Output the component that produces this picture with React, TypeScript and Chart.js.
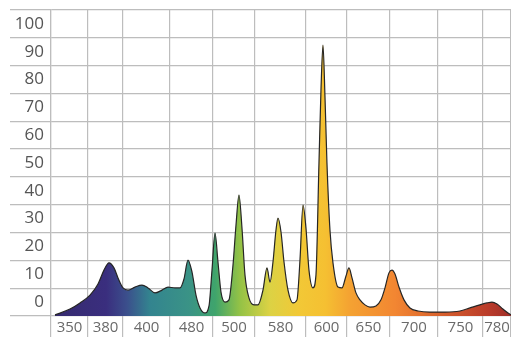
import { useEffect, useRef } from 'react';
import Chart from 'chart.js/auto';

// Column labels (wavelengths in nm) shown in the cells under the plot
const wavelengthLabels = ['350', '380', '400', '480', '500', '580', '600', '650', '700', '750', '780'];
// Cell boundaries of the grid, in column units (irregular as in the original)
const columnEdges = [0, 0.885, 1.722, 2.846, 3.874, 4.878, 6.098, 7.078, 8.106, 9.254, 10.33, 11];
// Row labels of the relative intensity axis
const intensityLabels = [0, 10, 20, 30, 40, 50, 60, 70, 80, 90, 100];

// Spectrum trace: position (column units) and relative intensity
const spectrumPos = [
  0.096, 0.454, 0.693, 0.933, 1.124, 1.267, 1.387, 1.506, 1.602, 1.722, 1.841, 2.009, 2.176, 2.319, 2.487,
  2.654, 2.798, 2.965, 3.085, 3.18, 3.276, 3.372, 3.467, 3.563, 3.682, 3.778, 3.85, 3.922, 3.993, 4.065,
  4.161, 4.256, 4.352, 4.424, 4.495, 4.567, 4.639, 4.734, 4.854, 4.95, 5.069, 5.165, 5.237, 5.308, 5.38,
  5.428, 5.5, 5.572, 5.667, 5.787, 5.882, 5.954, 6.026, 6.097, 6.169, 6.265, 6.336, 6.408, 6.456, 6.504,
  6.552, 6.599, 6.671, 6.743, 6.863, 6.958, 7.054, 7.126, 7.198, 7.293, 7.389, 7.508, 7.628, 7.771, 7.891,
  7.987, 8.082, 8.154, 8.226, 8.321, 8.441, 8.584, 8.776, 9.062, 9.421, 9.78, 10.019, 10.258, 10.426, 10.545,
  10.665, 10.808, 10.928, 11.0,
];
const spectrumValue = [
  0.4, 2.5, 4.7, 7.5, 11.5, 16.5, 19.1, 17.3, 13.7, 10.1, 9.3, 10.4, 11.1, 10.1, 8.3,
  9.3, 10.4, 10.1, 10.1, 13.3, 20.1, 15.8, 7.5, 2.9, 1.1, 3.6, 16.5, 29.8, 19.4, 8.6,
  5.0, 5.8, 18.3, 32.7, 43.5, 31.6, 14.7, 6.5, 4.0, 4.0, 9.3, 17.3, 12.2, 19.4, 30.9,
  35.2, 30.2, 19.4, 9.3, 4.7, 5.8, 20.1, 39.9, 31.6, 16.5, 10.1, 14.7, 55.0, 81.2, 97.4,
  78.7, 55.0, 30.9, 19.1, 10.4, 10.1, 14.4, 17.3, 13.7, 8.3, 5.8, 4.0, 3.2, 3.6, 5.8,
  10.1, 15.5, 16.5, 15.1, 10.4, 5.8, 2.9, 1.8, 1.4, 1.4, 1.8, 2.9, 4.0, 4.7, 5.0,
  4.3, 2.5, 1.1, 0.4,
];

// Colour stops of the spectral fill (fraction of axis width, colour)
const spectrumStops: [number, string][] = [
  [0.0, '#352a6e'],
  [0.12, '#3a2e7e'],
  [0.165, '#3b4f8c'],
  [0.215, '#33848f'],
  [0.3, '#3a9386'],
  [0.357, '#3fa46c'],
  [0.41, '#93c246'],
  [0.476, '#dcd244'],
  [0.54, '#f2c836'],
  [0.596, '#f5c032'],
  [0.65, '#f4a232'],
  [0.748, '#f28632'],
  [0.846, '#d8612c'],
  [0.954, '#b83a2a'],
  [1.0, '#9e2e28'],
];

const GRID = '#bdbdbd';

export default function App() {
  const ref = useRef<HTMLCanvasElement>(null);

  useEffect(() => {
    if (!ref.current) return;
    const edgeSet = new Set(columnEdges);
    const centers = wavelengthLabels.map((_, i) => (columnEdges[i] + columnEdges[i + 1]) / 2);
    const centerLabel = new Map<number, string>();
    centers.forEach((c, i) => centerLabel.set(c, wavelengthLabels[i]));
    const xTicks = [...columnEdges, ...centers].sort((a, b) => a - b);

    const yTicks: number[] = [];
    intensityLabels.forEach((v) => {
      yTicks.push(v, v + 5);
    });
    yTicks.push(110);

    const chart = new Chart(ref.current, {
      type: 'line',
      data: {
        datasets: [
          {
            data: spectrumPos.map((x, i) => ({ x, y: spectrumValue[i] })),
            borderColor: '#262626',
            borderWidth: 1.2,
            pointRadius: 0,
            cubicInterpolationMode: 'monotone',
            fill: 'origin',
            backgroundColor: (ctx: any) => {
              const c = ctx.chart;
              const area = c.chartArea;
              if (!area) return 'transparent';
              const xs = c.scales.x;
              const x0 = xs.getPixelForValue(0);
              const x1 = xs.getPixelForValue(11);
              const g = c.ctx.createLinearGradient(x0, 0, x1, 0);
              spectrumStops.forEach(([p, col]) => g.addColorStop(p, col));
              return g;
            },
          },
        ],
      },
      options: {
        animation: false,
        responsive: false,
        layout: { padding: { left: 10, top: 10, right: 0, bottom: 0 } },
        plugins: { legend: { display: false }, tooltip: { enabled: false } },
        scales: {
          x: {
            type: 'linear',
            min: 0,
            max: 11,
            afterBuildTicks: (scale: any) => {
              scale.ticks = xTicks.map((v) => ({ value: v }));
            },
            afterFit: (scale: any) => {
              scale.height = 21;
            },
            grid: {
              color: (ctx: any) => (ctx.tick && edgeSet.has(ctx.tick.value) ? GRID : 'transparent'),
              lineWidth: 1.2,
              tickLength: 21,
              drawTicks: true,
            },
            border: { display: false },
            ticks: {
              autoSkip: false,
              maxRotation: 0,
              padding: -18,
              color: '#6a6a6a',
              font: { family: 'Open Sans', size: 15 },
              callback: (value: any) => centerLabel.get(value) ?? '',
            },
          },
          y: {
            type: 'linear',
            min: 0,
            max: 110,
            afterBuildTicks: (scale: any) => {
              scale.ticks = yTicks.map((v) => ({ value: v }));
            },
            afterFit: (scale: any) => {
              scale.width = 41;
            },
            grid: {
              color: (ctx: any) => (ctx.tick && ctx.tick.value % 10 === 0 ? GRID : 'transparent'),
              lineWidth: 1.2,
              tickLength: 41,
              drawTicks: true,
            },
            border: { display: true, color: GRID, width: 1.2 },
            ticks: {
              autoSkip: false,
              padding: -34,
              color: '#555555',
              font: { family: 'Open Sans', size: 17 },
              callback: (value: any) => (value % 10 === 5 ? String(value - 5) : ''),
            },
          },
        },
      },
    });
    return () => chart.destroy();
  }, []);

  return (
    <div style={{ position: 'absolute', left: 0, top: 0, width: 511, height: 337, background: '#fff' }}>
      <canvas ref={ref} width={511} height={337} />
    </div>
  );
}
